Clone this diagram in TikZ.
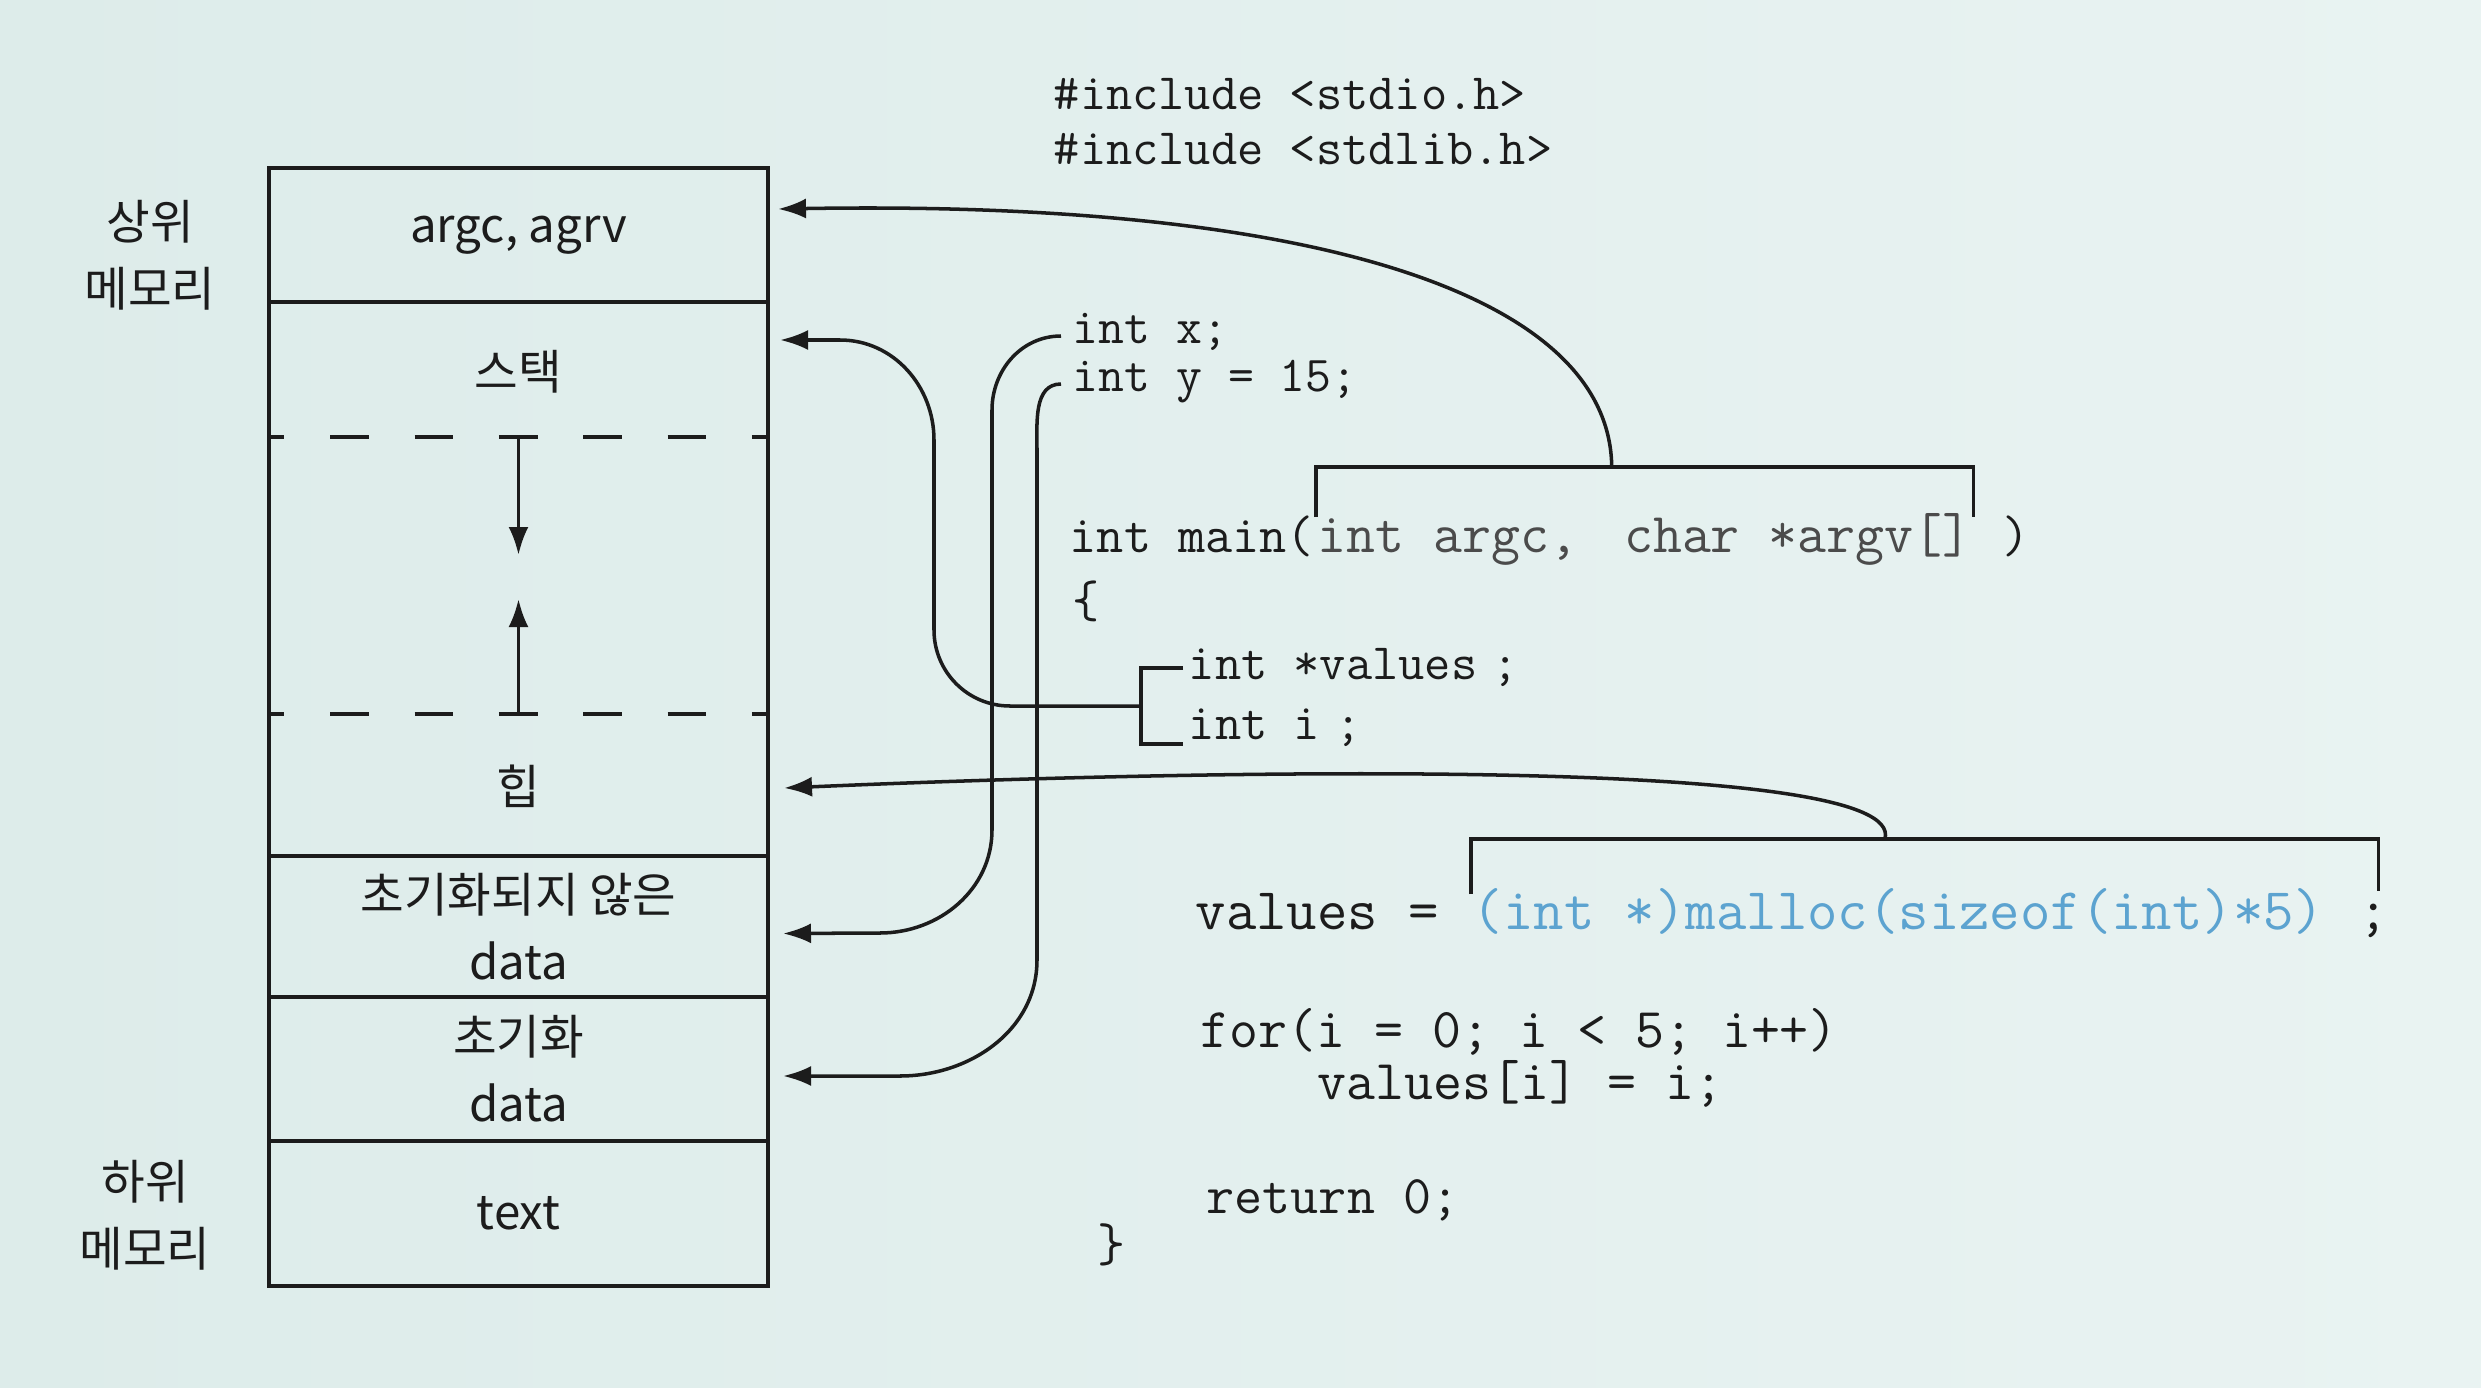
\documentclass[tikz,border=0pt]{standalone}
\usepackage{fontspec}
\setmainfont{Noto Sans CJK KR}
\usetikzlibrary{positioning,arrows.meta,calc}

\definecolor{paper}{RGB}{221,236,234}
\definecolor{paperlight}{RGB}{233,243,242}
\definecolor{ink}{RGB}{28,28,28}
\definecolor{mallocblue}{RGB}{92,163,208}
\definecolor{argsgray}{RGB}{75,75,75}

\begin{document}
\begin{tikzpicture}[
    every node/.style={font=\fontsize{13.5}{19}\selectfont, text=ink},
    seg/.style={draw=ink, minimum width=4.99cm, outer sep=0pt, inner sep=0pt, align=center},
    side/.style={align=center},
    code/.style={font=\ttfamily\fontsize{#1}{18}\selectfont, anchor=west, inner sep=0pt,
                 text height=1.6ex, text depth=0.4ex},
    code/.default=15,
    gap/.style={dash pattern=on 11pt off 13pt, dash phase=6.6pt},
    >={Latex[length=2.8mm,width=2mm]}, line width=1pt, color=ink
]
  \shade[left color=paper, right color=paperlight] (0,0) rectangle (24.81,-13.88);
  \useasboundingbox (0,0) rectangle (24.81,-13.88);

  % memory layout
  \node[seg, minimum height=1.34cm, anchor=north west] (argc) at (2.69,-1.68) {argc, agrv};
  \node[seg, minimum height=5.54cm, below=0pt of argc] (dyn) {};
  \node[seg, minimum height=1.41cm, below=0pt of dyn] (bss) {초기화되지 않은\\data};
  \node[seg, minimum height=1.44cm, below=0pt of bss] (data) {초기화\\data};
  \node[seg, minimum height=1.45cm, below=0pt of data] (txt) {text};
  \node (stack) at ($(dyn.north)+(0,-0.70)$) {스택};
  \node (heap) at ($(dyn.south)+(0,0.70)$) {힙};
  \draw[gap] ($(dyn.north west)+(0,-1.35)$) -- ($(dyn.north east)+(0,-1.35)$);
  \draw[gap] ($(dyn.south west)+(0,1.42)$) -- ($(dyn.south east)+(0,1.42)$);
  \draw[->] ($(dyn.north)+(0,-1.35)$) -- ++(0,-1.18);
  \draw[->] ($(dyn.south)+(0,1.42)$) -- ++(0,1.15);

  \node[side] (upper) at (1.50,-2.55) {상위\\메모리};
  \node[side] (lower) at (1.45,-12.15) {하위\\메모리};

  % code
  \node[code=14.5] (inc1) at (10.52,-0.98) {\#include <stdio.h>};
  \node[code=14.5] (inc2) at (10.52,-1.53) {\#include <stdlib.h>};
  \node[code=14.3] (intx) at (10.71,-3.32) {int x;};
  \node[code=14.3] (inty) at (10.71,-3.80) {int y = 15;};
  \node[code] (main) at (10.68,-5.41) {int main(};
  \node[code=16, text=argsgray, right=0pt of main] (args) {int argc,\kern.3em{} char *argv[]};
  \node[code, right=0pt of args] (rpar) {~)};
  \node[code] (lbrace) at (10.71,-6.06) {\{};
  \node[code=14.5] (vals) at (11.87,-6.68) {int *values\kern.3em;};
  \node[code=14.5] (inti) at (11.87,-7.28) {int i\kern.3em;};
  \node[code=16.8] (vline) at (11.94,-9.18) {values =\hbox{\ }};
  \node[code=16.8, text=mallocblue, right=0pt of vline] (malloc) {(int *)malloc(sizeof(int)*5)};
  \node[code=16.8, right=0pt of malloc] (semi) {~;};
  \node[code=16] (forl) at (11.99,-10.36) {for(i = 0; i < 5; i++)};
  \node[code=16] (vali) at (13.16,-10.88) {values[i] = i;};
  \node[code=15.5] (ret) at (12.05,-12.02) {return 0;};
  \node[code=15.5] (rbrace) at (10.96,-12.50) {\}};

  % brackets
  \draw ($(args.north west)+(0,0.03)$) -- ++(0,0.5) -| ($(args.north east)+(0,0.03)$);
  \draw ($(malloc.north west)+(0,0.03)$) -- ++(0,0.55) -| ($(semi.north east)+(-0.12,0.06)$);
  \draw ($(vals.west)+(-0.04,0)$) -- ++(-0.42,0) |- ($(inti.west)+(-0.04,-0.16)$);

  \coordinate (argtop) at ($(args.north west)!0.45!(args.north east)+(0,0.53)$);
  \coordinate (mtop) at ($(malloc.north west)!0.45!(semi.north east)+(0,0.58)$);
  \coordinate (locmid) at ($(vals.west)!0.5!(inti.west)+(-0.46,-0.08)$);

  \coordinate (argtip) at ($(argc.east)+(0.10,0.26)$);
  \coordinate (stacktip) at ($(dyn.north east)+(0.12,-0.38)$);
  \coordinate (heaptip) at ($(dyn.south east)+(0.16,0.68)$);
  \coordinate (bsstip) at ($(bss.east)+(0.15,-0.07)$);
  \coordinate (datatip) at ($(data.east)+(0.15,-0.07)$);

  % connectors
  \draw[->] (argtop) .. controls (16.1,-2.9) and (13.0,-2.0) .. (argtip);
  \draw[->] (mtop) .. controls (19.1,-7.55) and (12.0,-7.7) .. (heaptip);
  \draw[->] (locmid) -- (10.1,-7.06) to[out=180,in=270] (9.34,-6.3) -- (9.34,-4.4)
            to[out=90,in=0] (8.4,-3.40) -- (stacktip);
  \draw[->] ($(intx.west)+(-0.1,-0.04)$) to[out=180,in=90] (9.92,-4.1) -- (9.92,-8.3)
            to[out=-90,in=0] (8.8,-9.33) -- (bsstip);
  \draw[->] ($(inty.west)+(-0.1,-0.04)$) to[out=180,in=90] (10.37,-4.5) -- (10.37,-9.6)
            to[out=-90,in=0] (9.0,-10.76) -- (datatip);
\end{tikzpicture}
\end{document}
